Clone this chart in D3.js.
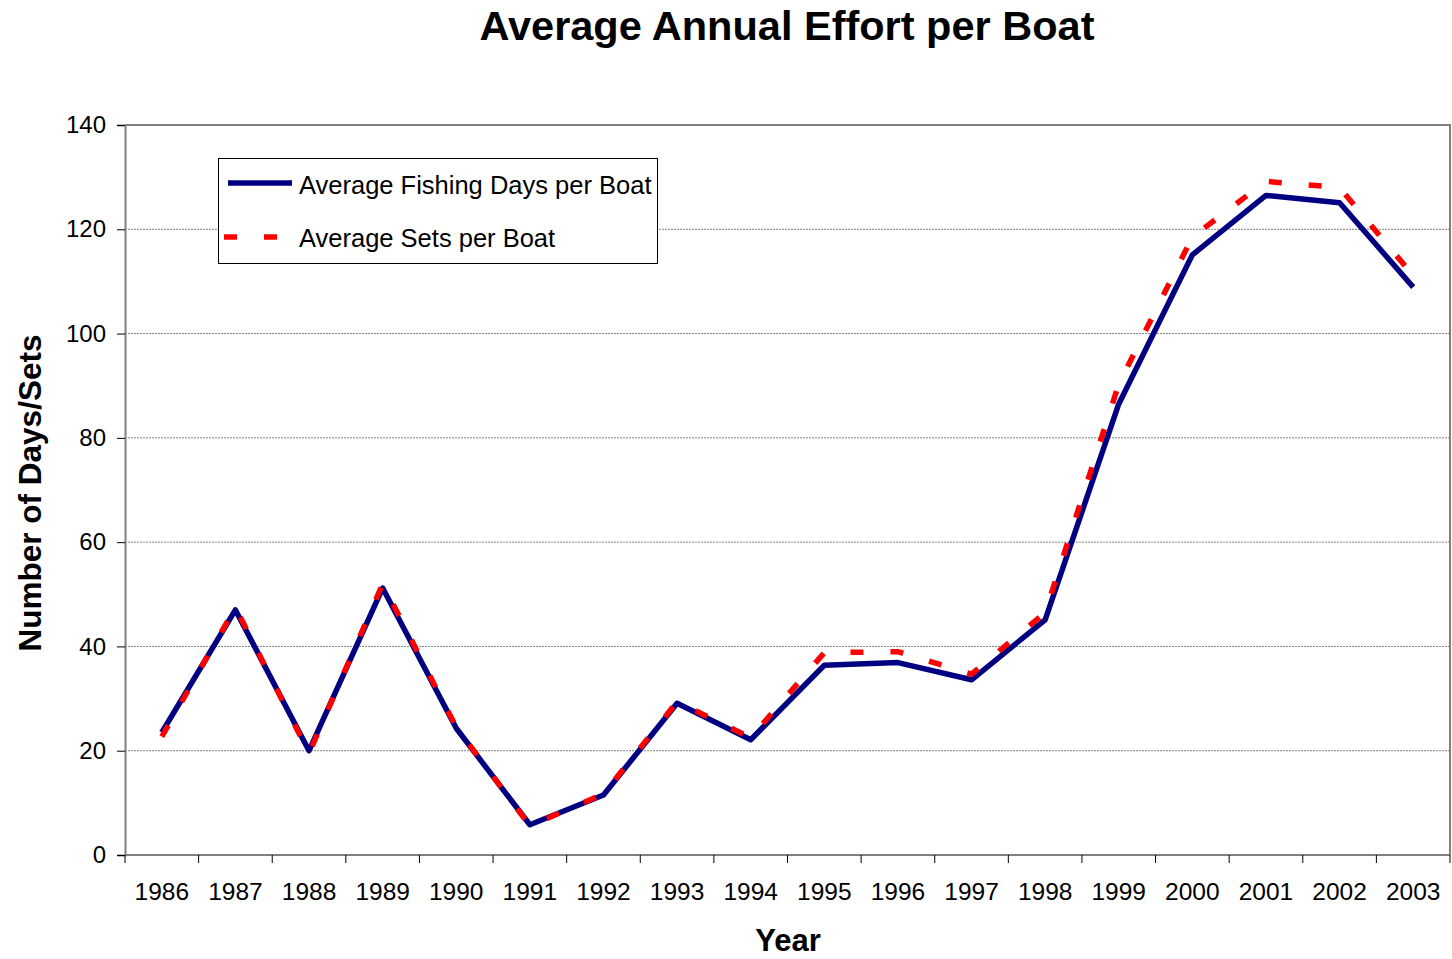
<!DOCTYPE html>
<html>
<head>
<meta charset="utf-8">
<script src="https://cdn.jsdelivr.net/npm/d3@7"></script>
<style>
  body { margin: 0; background: #fff; }
  svg { display: block; font-family: Arial, "Liberation Sans", sans-serif; }
</style>
</head>
<body>
<svg id="chart" width="1452" height="959"></svg>
<script>
const years = ['1986', '1987', '1988', '1989', '1990', '1991', '1992', '1993', '1994',
  '1995', '1996', '1997', '1998', '1999', '2000', '2001', '2002', '2003'];
const fishingDays = [23.5, 47, 20, 51.2, 24.3, 5.8, 11.5, 29.1, 22.1,
  36.4, 36.9, 33.6, 45.1, 86.5, 115.1, 126.5, 125.1, 108.9];
const setsPerBoat = [22.7, 47.5, 19.5, 52, 24.5, 5.6, 11.7, 29.4, 22.5,
  38.8, 39.0, 34.7, 46.5, 90.3, 118.5, 129.2, 128, 111.1];
const yTicks = [0, 20, 40, 60, 80, 100, 120, 140];
const seriesNames = ['Average Fishing Days per Boat', 'Average Sets per Boat'];

(function () {
  const svg = d3.select('#chart');
  const plotLeft = 125, plotRight = 1450, plotTop = 125, plotBottom = 855;

  const x = d3.scaleBand().domain(years).range([plotLeft, plotRight]);
  const y = d3.scaleLinear().domain([0, 140]).range([plotBottom, plotTop]);
  const cx = (yr) => x(yr) + x.bandwidth() / 2;

  // gridlines
  svg.append('g')
    .selectAll('line')
    .data(yTicks.filter((t) => t > 0))
    .join('line')
    .attr('x1', plotLeft).attr('x2', plotRight)
    .attr('y1', (d) => y(d)).attr('y2', (d) => y(d))
    .attr('stroke', '#808080')
    .attr('stroke-width', 1)
    .attr('stroke-dasharray', '2,1');

  // plot border (top/right)
  svg.append('path')
    .attr('d', `M${plotLeft},${plotTop}H${plotRight}V${plotBottom}`)
    .attr('fill', 'none')
    .attr('stroke', '#808080')
    .attr('stroke-width', 2);

  // y axis
  const yAxis = svg.append('g')
    .attr('transform', `translate(${plotLeft},0)`)
    .call(d3.axisLeft(y).tickValues(yTicks).tickSize(8).tickPadding(11));
  yAxis.select('.domain').attr('stroke', '#808080').attr('stroke-width', 2);
  yAxis.selectAll('.tick line').attr('stroke', '#000');
  yAxis.selectAll('.tick text')
    .attr('font-size', 24)
    .attr('font-family', 'Arial, "Liberation Sans", sans-serif')
    .attr('fill', '#000');

  // x axis line + boundary ticks
  svg.append('line')
    .attr('x1', plotLeft).attr('x2', plotRight)
    .attr('y1', plotBottom).attr('y2', plotBottom)
    .attr('stroke', '#808080').attr('stroke-width', 2);
  svg.append('g')
    .selectAll('line')
    .data(years.map((yr) => x(yr)).concat([x.range()[1]]))
    .join('line')
    .attr('x1', (d) => d).attr('x2', (d) => d)
    .attr('y1', plotBottom).attr('y2', plotBottom + 8)
    .attr('stroke', '#000');
  svg.append('g')
    .selectAll('text')
    .data(years)
    .join('text')
    .attr('x', (d) => cx(d))
    .attr('y', 900)
    .attr('text-anchor', 'middle')
    .attr('font-size', 24.5)
    .text((d) => d);

  // series lines
  const line = (vals) => d3.line()
    .x((d, i) => cx(years[i]))
    .y((d) => y(d))(vals);

  svg.append('path')
    .attr('d', line(fishingDays))
    .attr('fill', 'none')
    .attr('stroke', '#000080')
    .attr('stroke-width', 5.5)
    .attr('stroke-linejoin', 'round');

  svg.append('path')
    .attr('d', line(setsPerBoat))
    .attr('fill', 'none')
    .attr('stroke', '#ff0000')
    .attr('stroke-width', 5.5)
    .attr('stroke-dasharray', '13,27');

  // legend
  const legend = svg.append('g');
  legend.append('rect')
    .attr('x', 218.5).attr('y', 158.5)
    .attr('width', 439).attr('height', 105)
    .attr('fill', '#fff')
    .attr('stroke', '#000')
    .attr('stroke-width', 1);
  legend.append('line')
    .attr('x1', 228).attr('x2', 292).attr('y1', 183).attr('y2', 183)
    .attr('stroke', '#000080').attr('stroke-width', 5.5);
  legend.append('line')
    .attr('x1', 224).attr('x2', 292).attr('y1', 237).attr('y2', 237)
    .attr('stroke', '#ff0000').attr('stroke-width', 5.5)
    .attr('stroke-dasharray', '13,27');
  legend.selectAll('text.item')
    .data(seriesNames)
    .join('text')
    .attr('class', 'item')
    .attr('x', 299)
    .attr('y', (d, i) => 194 + i * 53)
    .attr('font-size', 25.5)
    .text((d) => d);

  // titles
  svg.append('text')
    .attr('x', 787).attr('y', 40)
    .attr('text-anchor', 'middle')
    .attr('font-size', 41.5)
    .attr('font-weight', 'bold')
    .text('Average Annual Effort per Boat');

  svg.append('text')
    .attr('x', 788).attr('y', 951)
    .attr('text-anchor', 'middle')
    .attr('font-size', 31)
    .attr('font-weight', 'bold')
    .text('Year');

  svg.append('text')
    .attr('transform', 'translate(41,493) rotate(-90)')
    .attr('text-anchor', 'middle')
    .attr('font-size', 31.5)
    .attr('font-weight', 'bold')
    .text('Number of Days/Sets');
})();
</script>
</body>
</html>
